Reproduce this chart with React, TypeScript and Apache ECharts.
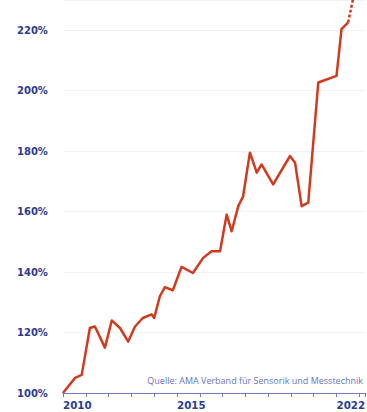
import React, { useEffect, useRef } from "react";
import * as echarts from "echarts";

const years: number[] = [
  2010.0, 2010.53, 2010.82, 2011.18, 2011.4, 2011.84, 2012.14, 2012.5, 2012.86,
  2013.16, 2013.5, 2013.89, 2014.0, 2014.25, 2014.47, 2014.82, 2015.2, 2015.7,
  2016.15, 2016.52, 2016.89, 2017.18, 2017.4, 2017.69, 2017.9, 2018.2, 2018.5,
  2018.71, 2019.22, 2019.96, 2020.18, 2020.47, 2020.76, 2021.2, 2022.0, 2022.22,
  2022.51,
];
const values: number[] = [
  100, 105, 106, 121.5, 122, 115, 124, 121.5, 117,
  122, 124.8, 126, 124.8, 132, 135, 134, 141.7, 139.7,
  144.7, 146.9, 146.9, 159, 153.5, 161.8, 165, 179.5, 172.9,
  175.6, 169, 178.4, 176.2, 161.8, 163, 202.7, 204.9, 220.4,
  222.6,
];
const forecastYears: number[] = [2022.51, 2022.8];
const forecastValues: number[] = [222.6, 233];
const labelYears: number[] = [2010, 2015, 2022];
const sourceText = "Quelle: AMA Verband für Sensorik und Messtechnik";

const NAVY = "#2c3b8e";
const RED = "#d23a1e";

export default function App() {
  const ref = useRef<HTMLDivElement>(null);
  useEffect(() => {
    if (!ref.current) return;
    const chart = echarts.init(ref.current, undefined, { renderer: "svg" });
    chart.setOption({
      animation: false,
      backgroundColor: "#ffffff",
      grid: {
        left: 63,
        right: 2,
        top: 0,
        bottom: 19,
        containLabel: false,
        outerBoundsMode: "none",
      },
      xAxis: {
        type: "value",
        min: 2010,
        max: 2023.25,
        interval: 1,
        axisLine: { show: true, lineStyle: { color: "#6f7cb8", width: 1 } },
        axisTick: { show: true, length: 4, lineStyle: { color: "#6f7cb8" } },
        splitLine: { show: false },
        axisLabel: {
          margin: 7,
          align: "left",
          color: NAVY,
          fontFamily: "DejaVu Sans",
          fontWeight: "bold",
          fontSize: 10.3,
          formatter: (v: number) => {
            const y = Math.round(v);
            if (!labelYears.includes(y) || Math.abs(v - y) > 1e-6) return "";
            return String(y);
          },
        },
      },
      yAxis: {
        type: "value",
        min: 100,
        max: 230,
        interval: 20,
        axisLine: { show: false },
        axisTick: { show: false },
        splitLine: { show: true, lineStyle: { color: "#f1f2f7", width: 1 } },
        axisLabel: {
          align: "left",
          margin: 46,
          color: NAVY,
          fontFamily: "DejaVu Sans",
          fontWeight: "bold",
          fontSize: 10,
          formatter: (v: number) => (Math.round(v) % 20 === 0 ? v + "%" : ""),
        },
      },
      graphic: [
        {
          type: "text",
          right: 4,
          top: 376,
          style: {
            text: sourceText,
            fill: "#6676bf",
            fontFamily: "Open Sans",
            fontSize: 9,
          },
        },
      ],
      series: [
        {
          type: "line",
          data: years.map((y, i) => [y, values[i]]),
          symbol: "none",
          lineStyle: { color: RED, width: 2.5, join: "round" },
          z: 3,
        },
        {
          type: "line",
          data: forecastYears.map((y, i) => [y, forecastValues[i]]),
          symbol: "none",
          lineStyle: { color: RED, width: 2.5, type: [3, 2] },
          z: 3,
        },
      ],
    });
    return () => chart.dispose();
  }, []);
  return (
    <div
      ref={ref}
      style={{ position: "fixed", left: 0, top: 0, width: 367, height: 412 }}
    />
  );
}
